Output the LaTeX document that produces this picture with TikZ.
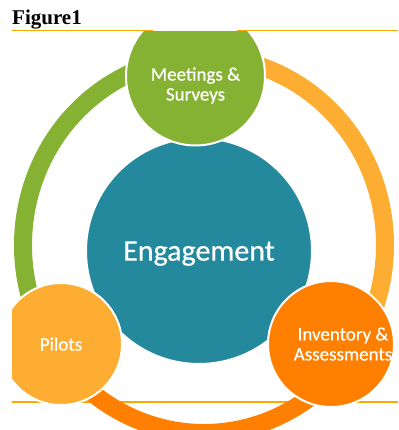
\documentclass[tikz,border=0pt]{standalone}
\usepackage{xcolor}
\usepackage{fontspec}
\setmainfont[FakeBold=0.6]{Carlito}
\newfontfamily\figfont{Liberation Serif}
\definecolor{ringgreen}{RGB}{134,178,52}
\definecolor{ringamber}{RGB}{253,174,50}
\definecolor{ringorange}{RGB}{255,127,0}
\definecolor{engteal}{RGB}{36,137,156}
\definecolor{ruleorange}{RGB}{255,168,0}

\begin{document}
\begin{tikzpicture}[
    x=1pt, y=-1pt,
    stage/.style={circle, draw=white, line width=2pt, inner sep=0pt, text=white, align=center, font=\fontsize{19}{20}\selectfont},
    stagetext/.style={inner sep=0pt, text=white, align=center, font=\fontsize{19}{20}\selectfont},
    arcseg/.style={line width=18pt},
    rule/.style={ruleorange, line width=1.3pt}
]
\useasboundingbox (0,0) rectangle (398,430);

\node[font=\figfont\bfseries\fontsize{21}{24}\selectfont, anchor=base west, inner sep=0pt] (title) at (12,25) {Figure1};

\draw[rule] (12,402) -- (398,402);

\begin{scope}
\clip (12,31.5) rectangle (398,430);
\coordinate (ctr) at (204,245);

\node[stage, fill=engteal, minimum size=226pt, text depth=0pt, font=\fontsize{30}{32}\selectfont] (eng) at (199,251) {Engagement};

% the cycle ring
\draw[arcseg, ringgreen] (ctr) ++(146:181 and 188) arc[start angle=146, end angle=267, x radius=181, y radius=188];
\draw[arcseg, ringamber] (ctr) ++(-93:181 and 188) arc[start angle=-93, end angle=37, x radius=181, y radius=188];
\draw[arcseg, ringorange] (ctr) ++(37:181 and 188) arc[start angle=37, end angle=146, x radius=181, y radius=188];

\node[stage, fill=ringgreen, minimum size=139pt] (meet) at (195.5,76) {};
\node[stagetext] (meettxt) at ([yshift=-9.5pt]meet.center) {Meetings \&\\Surveys};

\node[stage, fill=ringamber, minimum size=122pt, text depth=0pt] (pil) at (61,344) {Pilots};

\node[stage, fill=ringorange, minimum size=126pt] (inv) at (331,344) {};
\node[stagetext] (invtxt) at ([xshift=12pt]inv.center) {Inventory \&\\Assessments};
\end{scope}

\draw[rule] (12,30.5) -- (153,30.5) (237,30.5) -- (398,30.5);

\end{tikzpicture}
\end{document}
